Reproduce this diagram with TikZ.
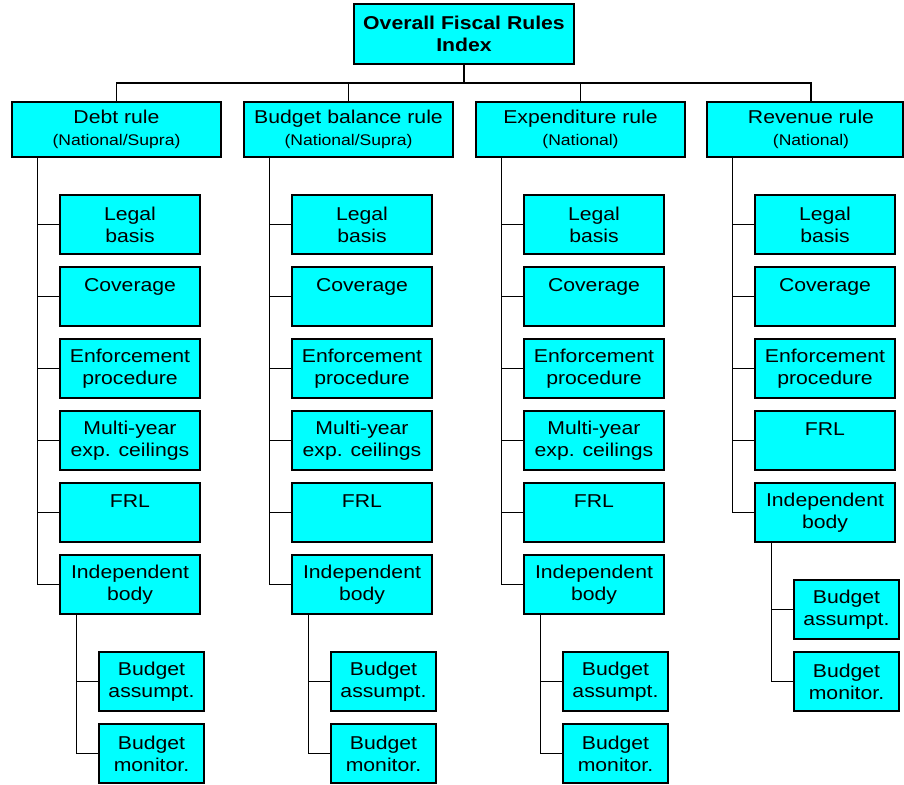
\documentclass[tikz,border=0pt]{standalone}
\usepackage{fontspec}
\setmainfont{Liberation Sans}[FakeStretch=1.14]
\definecolor{aqua}{RGB}{0,255,255}
\begin{document}
\begin{tikzpicture}[x=1pt,y=-1pt,
  every path/.style={line width=1.3pt},
  box/.style={draw=black,line width=1.3pt,fill=aqua,inner sep=0pt,align=center,
    font=\fontsize{18.6}{22}\selectfont},
  topbox/.style={box,minimum width=220pt,minimum height=60pt,font=\fontsize{18.6}{22}\selectfont\bfseries},
  rulebox/.style={box,minimum width=209pt,minimum height=55pt},
  itembox/.style={box,minimum width=140pt,minimum height=59pt},
  subbox/.style={box,minimum width=105pt,minimum height=59pt},
  link/.style={draw=black,line width=1.3pt}]
\useasboundingbox (0,0) rectangle (904,784);
\newcommand{\sm}[1]{{\fontsize{15.4}{18}\selectfont #1}}
\node[topbox] (top) at (464,34) {Overall Fiscal Rules\\Index};
\coordinate (bar) at (464,83);
\node[rulebox] (debt) at (116.5,129.5) {Debt rule\\\sm{(National/Supra)}};
\node[rulebox] (bal) at (348.5,129.5) {Budget balance rule\\\sm{(National/Supra)}};
\node[rulebox] (exp) at (580.5,129.5) {Expenditure rule\\\sm{(National)}};
\node[rulebox,minimum width=196pt] (rev) at (805,129.5) {\hspace*{12pt}Revenue rule\\\hspace*{12pt}\sm{(National)}};
\draw[link] (top.south) -- (bar) -| (debt.north);
\draw[link] (bar) -| (bal.north);
\draw[link] (bar) -| (exp.north);
\draw[link] (bar) -| ([xshift=6pt]rev.north);
% Debt column (L=12)
\node[itembox] (d1) at (130,224.5) {Legal\\basis};
\node[itembox] (d2) at (130,296.5) {Coverage\\\mbox{}};
\node[itembox] (d3) at (130,368.5) {Enforcement\\procedure};
\node[itembox] (d4) at (130,440.5) {Multi-year\\exp. ceilings};
\node[itembox] (d5) at (130,512.5) {FRL\\\mbox{}};
\node[itembox] (d6) at (130,584.5) {Independent\\body};
\node[subbox] (d7) at (151.5,681.5) {Budget\\assumpt.};
\node[subbox] (d8) at (151.5,753.5) {Budget\\monitor.};
\foreach \n in {d1,d2,d3,d4,d5,d6}{\draw[link] ([xshift=26pt]debt.south west) |- (\n.west);}
\foreach \n in {d7,d8}{\draw[link] ([xshift=17pt]d6.south west) |- (\n.west);}
% Budget balance column (L=244)
\node[itembox] (b1) at (362,224.5) {Legal\\basis};
\node[itembox] (b2) at (362,296.5) {Coverage\\\mbox{}};
\node[itembox] (b3) at (362,368.5) {Enforcement\\procedure};
\node[itembox] (b4) at (362,440.5) {Multi-year\\exp. ceilings};
\node[itembox] (b5) at (362,512.5) {FRL\\\mbox{}};
\node[itembox] (b6) at (362,584.5) {Independent\\body};
\node[subbox] (b7) at (383.5,681.5) {Budget\\assumpt.};
\node[subbox] (b8) at (383.5,753.5) {Budget\\monitor.};
\foreach \n in {b1,b2,b3,b4,b5,b6}{\draw[link] ([xshift=26pt]bal.south west) |- (\n.west);}
\foreach \n in {b7,b8}{\draw[link] ([xshift=17pt]b6.south west) |- (\n.west);}
% Expenditure column (L=476)
\node[itembox] (e1) at (594,224.5) {Legal\\basis};
\node[itembox] (e2) at (594,296.5) {Coverage\\\mbox{}};
\node[itembox] (e3) at (594,368.5) {Enforcement\\procedure};
\node[itembox] (e4) at (594,440.5) {Multi-year\\exp. ceilings};
\node[itembox] (e5) at (594,512.5) {FRL\\\mbox{}};
\node[itembox] (e6) at (594,584.5) {Independent\\body};
\node[subbox] (e7) at (615.5,681.5) {Budget\\assumpt.};
\node[subbox] (e8) at (615.5,753.5) {Budget\\monitor.};
\foreach \n in {e1,e2,e3,e4,e5,e6}{\draw[link] ([xshift=26pt]exp.south west) |- (\n.west);}
\foreach \n in {e7,e8}{\draw[link] ([xshift=17pt]e6.south west) |- (\n.west);}
% Revenue column (L=707)
\node[itembox] (r1) at (825,224.5) {Legal\\basis};
\node[itembox] (r2) at (825,296.5) {Coverage\\\mbox{}};
\node[itembox] (r3) at (825,368.5) {Enforcement\\procedure};
\node[itembox] (r4) at (825,440.5) {FRL\\\mbox{}};
\node[itembox] (r5) at (825,512.5) {Independent\\body};
\node[subbox] (r6) at (846.5,609.5) {Budget\\assumpt.};
\node[subbox] (r7) at (846.5,681.5) {Budget\\monitor.};
\foreach \n in {r1,r2,r3,r4,r5}{\draw[link] ([xshift=26pt]rev.south west) |- (\n.west);}
\foreach \n in {r6,r7}{\draw[link] ([xshift=17pt]r5.south west) |- (\n.west);}
\end{tikzpicture}
\end{document}
